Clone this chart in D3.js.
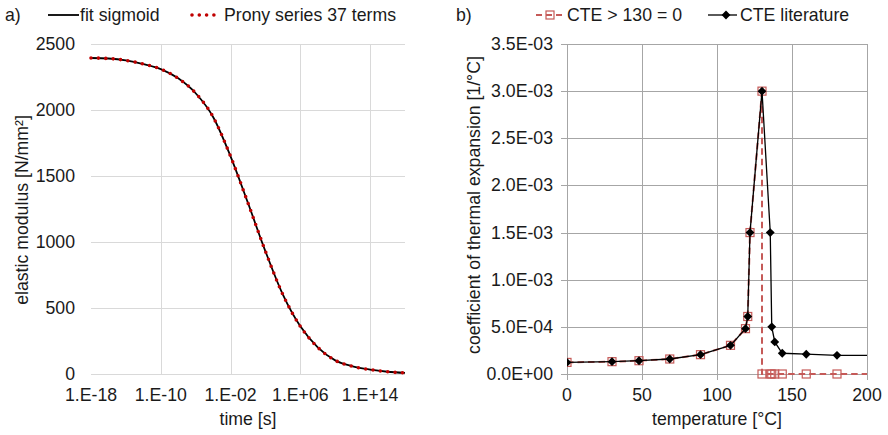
<!DOCTYPE html>
<html>
<head>
<meta charset="utf-8">
<script src="https://cdn.jsdelivr.net/npm/d3@7"></script>
<style>
  body { margin: 0; background: #fff; }
  text { font-family: "Liberation Sans", Arial, sans-serif; fill: #1a1a1a; }
</style>
</head>
<body>
<svg id="chart" width="888" height="435"></svg>
<script>
// ---- a) relaxation modulus vs. time (log10 of seconds) ----
var logTime = [-18, -16, -14, -12, -10, -8, -6, -4, -2, 0, 2, 4, 6, 8, 10, 12, 14, 16, 18]
var sigmoidE = [2394, 2390, 2376, 2348, 2310, 2240, 2127, 1947, 1649, 1295, 929, 601, 361, 202, 103, 58, 33, 17, 8]
var pronyE = [2394, 2390, 2376, 2348, 2310, 2240, 2127, 1947, 1649, 1295, 929, 601, 361, 202, 103, 58, 33, 17, 8]
var timeTicks = ["1.E-18", "1.E-10", "1.E-02", "1.E+06", "1.E+14"]
var modulusTicks = [0, 500, 1000, 1500, 2000, 2500]

// ---- b) CTE vs. temperature ----
var tempLit = [0, 30, 48, 68.5, 89, 109, 119, 120.5, 122, 130, 135.5, 136.5, 138.5, 143.5, 159.5, 180, 220]
var cteLit = [1.23e-4, 1.31e-4, 1.41e-4, 1.59e-4, 2.05e-4, 3.04e-4, 4.81e-4, 6.1e-4, 1.5e-3, 3.0e-3, 1.5e-3, 5.0e-4, 3.4e-4, 2.2e-4, 2.1e-4, 1.98e-4, 1.95e-4]
var tempCut = [0, 30, 48, 68.5, 89, 109, 119, 120.5, 122, 130, 130, 135.5, 136.5, 138.5, 143.5, 159.5, 180, 220]
var cteCut = [1.23e-4, 1.31e-4, 1.41e-4, 1.59e-4, 2.05e-4, 3.04e-4, 4.81e-4, 6.1e-4, 1.5e-3, 3.0e-3, 0, 0, 0, 0, 0, 0, 0, 0]
var tempTicks = [0, 50, 100, 150, 200]
var cteTicks = [0, 5e-4, 1e-3, 1.5e-3, 2e-3, 2.5e-3, 3e-3, 3.5e-3]

var svg = d3.select("#chart")
var fs = 17.7

// ================= panel a =================
var ax = d3.scaleLinear().domain([-18, 18]).range([91, 405])
var ay = d3.scaleLinear().domain([0, 2500]).range([374, 44])

var ga = svg.append("g")

// gridlines
ga.selectAll(".hgrid").data(modulusTicks).enter().append("line")
  .attr("x1", 91).attr("x2", 405)
  .attr("y1", d => Math.round(ay(d)) + 0.5).attr("y2", d => Math.round(ay(d)) + 0.5)
  .attr("stroke", "#d9d9d9").attr("stroke-width", 1)
ga.selectAll(".vgrid").data([-10, -2, 6, 14]).enter().append("line")
  .attr("x1", d => Math.round(ax(d)) + 0.5).attr("x2", d => Math.round(ax(d)) + 0.5)
  .attr("y1", 44).attr("y2", 374)
  .attr("stroke", "#d9d9d9").attr("stroke-width", 1)

ga.selectAll(".ylab").data(modulusTicks).enter().append("text")
  .attr("x", 75).attr("y", d => ay(d) + 6)
  .attr("text-anchor", "end").attr("font-size", fs)
  .text(d => d)
ga.selectAll(".xlab").data(timeTicks).enter().append("text")
  .attr("x", (d, i) => ax(-18 + i * 8)).attr("y", 401)
  .attr("text-anchor", "middle").attr("font-size", fs)
  .text(d => d)

var lineA = d3.line().x((d, i) => ax(logTime[i])).y(d => ay(d)).curve(d3.curveMonotoneX)
ga.append("path").attr("d", lineA(sigmoidE))
  .attr("fill", "none").attr("stroke", "#000").attr("stroke-width", 1.8)
ga.append("path").attr("d", lineA(pronyE))
  .attr("fill", "none").attr("stroke", "#c00000").attr("stroke-width", 3.6)
  .attr("stroke-linecap", "round").attr("stroke-dasharray", "0 7.4")

ga.append("text").attr("x", 248).attr("y", 425).attr("text-anchor", "middle")
  .attr("font-size", fs).text("time [s]")
ga.append("text").attr("transform", "translate(28,210) rotate(-90)")
  .attr("text-anchor", "middle").attr("font-size", fs).text("elastic modulus [N/mm²]")

// legend a
ga.append("text").attr("x", 5).attr("y", 21).attr("font-size", fs).text("a)")
ga.append("line").attr("x1", 48).attr("x2", 79).attr("y1", 15).attr("y2", 15)
  .attr("stroke", "#000").attr("stroke-width", 1.8)
ga.append("text").attr("x", 80).attr("y", 21).attr("font-size", fs).text("fit sigmoid")
ga.append("line").attr("x1", 192).attr("x2", 218).attr("y1", 15).attr("y2", 15)
  .attr("stroke", "#c00000").attr("stroke-width", 3.6)
  .attr("stroke-linecap", "round").attr("stroke-dasharray", "0 7.3")
ga.append("text").attr("x", 224).attr("y", 21).attr("font-size", fs).text("Prony series 37 terms")

// ================= panel b =================
var bx = d3.scaleLinear().domain([0, 200]).range([567, 867])
var by = d3.scaleLinear().domain([0, 3.5e-3]).range([374, 44])

var gb = svg.append("g")

gb.append("clipPath").attr("id", "clipb").append("rect")
  .attr("x", 567).attr("y", 40).attr("width", 300).attr("height", 340)

gb.selectAll(".hgrid").data(cteTicks).enter().append("line")
  .attr("x1", 561).attr("x2", 867)
  .attr("y1", d => Math.round(by(d)) + 0.5).attr("y2", d => Math.round(by(d)) + 0.5)
  .attr("stroke", "#a6a6a6").attr("stroke-width", 1)
gb.selectAll(".vgrid").data(tempTicks).enter().append("line")
  .attr("x1", d => Math.round(bx(d)) + 0.5).attr("x2", d => Math.round(bx(d)) + 0.5)
  .attr("y1", 44).attr("y2", 380)
  .attr("stroke", "#a6a6a6").attr("stroke-width", 1)

gb.selectAll(".ylab").data(cteTicks).enter().append("text")
  .attr("x", 553).attr("y", d => by(d) + 6)
  .attr("text-anchor", "end").attr("font-size", fs)
  .text(d => d.toExponential(1).replace(/e([+-])(\d)$/, "E$10$2").toUpperCase())
gb.selectAll(".xlab").data(tempTicks).enter().append("text")
  .attr("x", d => bx(d)).attr("y", 401)
  .attr("text-anchor", "middle").attr("font-size", fs)
  .text(d => d)

var plot = gb.append("g").attr("clip-path", "url(#clipb)")
var lineB = d3.line()

var red = "#c55a58"
plot.append("path")
  .attr("d", lineB(tempCut.map((t, i) => [bx(t), by(cteCut[i])])))
  .attr("fill", "none").attr("stroke", red).attr("stroke-width", 2)
  .attr("stroke-dasharray", "6.5 4")
plot.selectAll(".sq").data(tempCut).enter().append("rect")
  .attr("x", d => bx(d) - 4).attr("y", (d, i) => by(cteCut[i]) - 4)
  .attr("width", 8).attr("height", 8)
  .attr("fill", "none").attr("stroke", red).attr("stroke-width", 1.2)

plot.append("path")
  .attr("d", lineB(tempLit.map((t, i) => [bx(t), by(cteLit[i])])))
  .attr("fill", "none").attr("stroke", "#000").attr("stroke-width", 1.3)
var diamond = d3.symbol().type(d3.symbolDiamond2).size(50)
plot.selectAll(".dm").data(tempLit).enter().append("path")
  .attr("d", diamond)
  .attr("transform", (d, i) => "translate(" + bx(d) + "," + by(cteLit[i]) + ")")
  .attr("fill", "#000")

gb.append("text").attr("x", 717).attr("y", 425).attr("text-anchor", "middle")
  .attr("font-size", fs).text("temperature [°C]")
gb.append("text").attr("transform", "translate(480,205) rotate(-90)")
  .attr("text-anchor", "middle").attr("font-size", fs).text("coefficient of thermal expansion [1/°C]")

// legend b
gb.append("text").attr("x", 456).attr("y", 21).attr("font-size", fs).text("b)")
gb.append("line").attr("x1", 536).attr("x2", 562).attr("y1", 15).attr("y2", 15)
  .attr("stroke", red).attr("stroke-width", 2).attr("stroke-dasharray", "6 4")
gb.append("rect").attr("x", 546).attr("y", 11).attr("width", 8).attr("height", 8)
  .attr("fill", "none").attr("stroke", red).attr("stroke-width", 1.2)
gb.append("text").attr("x", 567).attr("y", 21).attr("font-size", fs).text("CTE > 130 = 0")
gb.append("line").attr("x1", 708).attr("x2", 737).attr("y1", 15).attr("y2", 15)
  .attr("stroke", "#000").attr("stroke-width", 1.3)
gb.append("path").attr("d", diamond).attr("transform", "translate(726,15)").attr("fill", "#000")
gb.append("text").attr("x", 740).attr("y", 21).attr("font-size", fs).text("CTE literature")
</script>
</body>
</html>
